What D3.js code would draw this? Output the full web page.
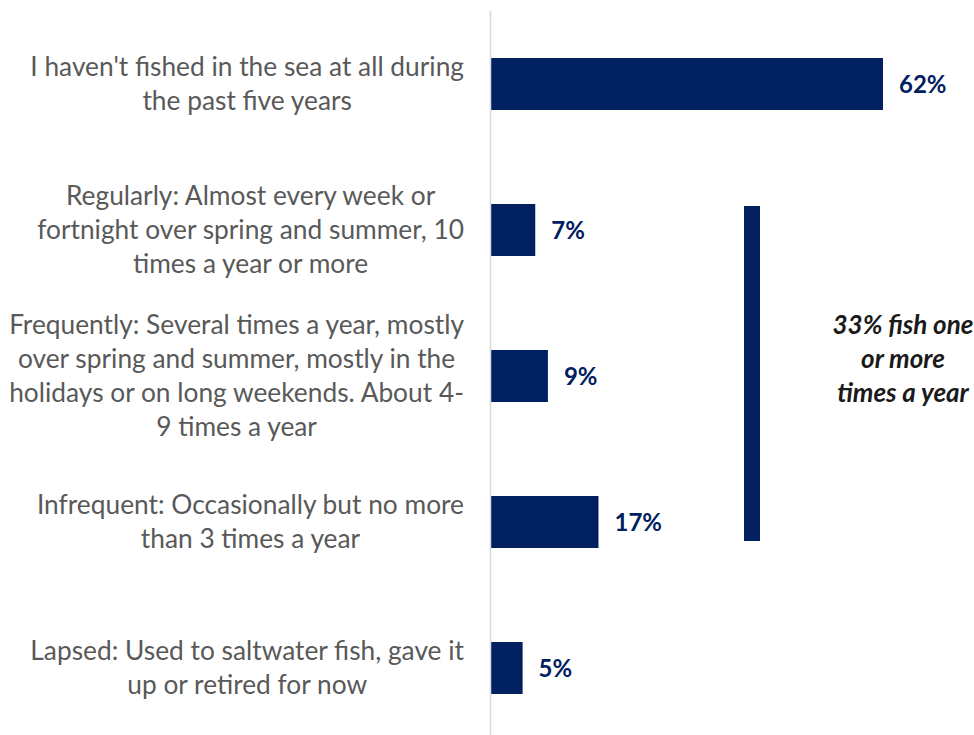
<!DOCTYPE html>
<html>
<head>
<meta charset="utf-8">
<script src="https://cdn.jsdelivr.net/npm/d3@7"></script>
<style>
  html, body { margin: 0; padding: 0; background: #ffffff; }
  svg { display: block; }
</style>
</head>
<body>
<svg id="chart" width="974" height="735"></svg>
<script>
// Sea-fishing frequency, share of respondents
const categories = [
  "I haven't fished in the sea at all during the past five years",
  "Regularly: Almost every week or fortnight over spring and summer, 10 times a year or more",
  "Frequently: Several times a year, mostly over spring and summer, mostly in the holidays or on long weekends. About 4-9 times a year",
  "Infrequent: Occasionally but no more than 3 times a year",
  "Lapsed: Used to saltwater fish, gave it up or retired for now"
];
const categoryLines = [
  ["I haven't fished in the sea at all during", "the past five years"],
  ["Regularly: Almost every week or", "fortnight over spring and summer, 10", "times a year or more"],
  ["Frequently: Several times a year, mostly", "over spring and summer, mostly in the", "holidays or on long weekends. About 4-", "9 times a year"],
  ["Infrequent: Occasionally but no more", "than 3 times a year"],
  ["Lapsed: Used to saltwater fish, gave it", "up or retired for now"]
];
const values = [62, 7, 9, 17, 5];
const groupNote = ["33% fish one", "or more", "times a year"];
const groupedCategories = [categories[1], categories[2], categories[3]];

const svg = d3.select("#chart");
const W = 974, H = 735;
const barColor = "#002060";
const labelColor = "#595959";
const font = "Lato, 'Open Sans', 'Noto Sans', sans-serif";

const x0 = 491;
const x = d3.scaleLinear().domain([0, 62]).range([x0, 883]);
const y = d3.scaleBand()
  .domain(categories)
  .range([11, 741])
  .paddingInner(0.644)
  .paddingOuter(0.322);

// bars
svg.append("g")
  .selectAll("rect")
  .data(categories)
  .join("rect")
  .attr("x", x(0))
  .attr("y", d => y(d))
  .attr("width", (d, i) => x(values[i]) - x(0))
  .attr("height", y.bandwidth())
  .attr("fill", barColor);

// value labels
svg.append("g")
  .selectAll("text")
  .data(categories)
  .join("text")
  .attr("x", (d, i) => x(values[i]) + 16)
  .attr("y", d => y(d) + y.bandwidth() / 2)
  .attr("dy", "0.36em")
  .attr("font-family", font)
  .attr("font-weight", 700)
  .attr("font-size", 24)
  .attr("fill", barColor)
  .text((d, i) => values[i] + "%");

// category axis with wrapped, centred labels
const axis = d3.axisLeft(y).tickSize(0).tickFormat("");
const gAxis = svg.append("g")
  .attr("transform", `translate(${x0 - 0.5},0)`)
  .call(axis);
gAxis.select(".domain").remove();
gAxis.append("line")
  .attr("x1", 0).attr("x2", 0)
  .attr("y1", 11).attr("y2", H)
  .attr("stroke", "#d9d9d9")
  .attr("stroke-width", 1.5);

// fit label font to the widest wrapped line
const labelRight = 464;
const probe = svg.append("text")
  .attr("font-family", font).attr("font-size", 22)
  .text("Frequently: Several times a year, mostly");
const probeW = probe.node().getComputedTextLength();
probe.remove();
const labelSize = 22 * 455 / probeW;
const lineGap = 34;

const labels = svg.append("g");
categories.forEach((cat, i) => {
  const lines = categoryLines[i];
  const t = labels.append("text")
    .attr("font-family", font)
    .attr("font-size", labelSize)
    .attr("fill", labelColor)
    .attr("text-anchor", "middle");
  const cy = y(cat) + y.bandwidth() / 2;
  const first = cy - (lines.length - 1) * lineGap / 2;
  lines.forEach((ln, k) => {
    t.append("tspan")
      .attr("y", first + k * lineGap)
      .attr("dy", "0.35em")
      .text(ln);
  });
  // widest line sets the box; lines centre within it, box right-aligned
  let maxW = 0;
  t.selectAll("tspan").each(function () {
    maxW = Math.max(maxW, this.getComputedTextLength());
  });
  t.selectAll("tspan").attr("x", labelRight - maxW / 2);
});

// bracket grouping the three active categories
const gTop = y(groupedCategories[0]) + 2;
const gBot = y(groupedCategories[2]) + y.bandwidth() - 7;
svg.append("rect")
  .attr("x", 744)
  .attr("y", gTop)
  .attr("width", 16)
  .attr("height", gBot - gTop)
  .attr("fill", barColor);

const note = svg.append("text")
  .attr("font-family", font)
  .attr("font-weight", 700)
  .attr("font-style", "italic")
  .attr("font-size", 26)
  .attr("fill", "#1a1a1a")
  .attr("text-anchor", "middle");
const noteMid = (gTop + gBot) / 2;
groupNote.forEach((ln, k) => {
  note.append("tspan")
    .attr("x", 903)
    .attr("y", noteMid - 15 + (k - 1) * 34)
    .attr("dy", "0.35em")
    .text(ln);
});
</script>
</body>
</html>
